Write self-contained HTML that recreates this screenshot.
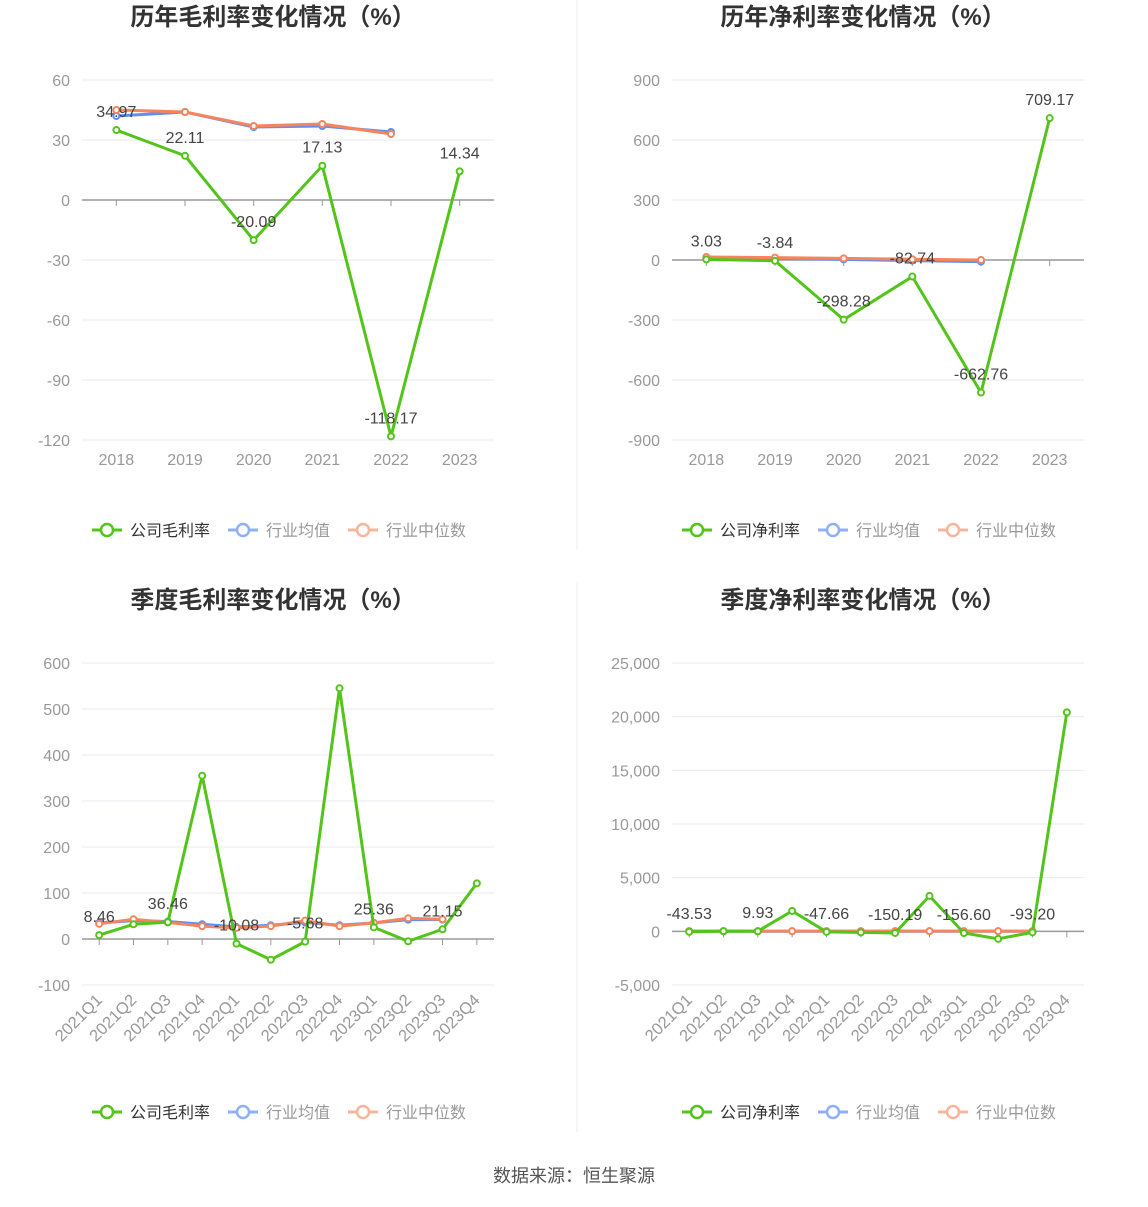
<!DOCTYPE html>
<html><head><meta charset="utf-8"><style>
body{margin:0;background:#fff;font-family:"Liberation Sans","Noto Sans CJK SC",sans-serif;}
svg text{font-family:"Liberation Sans","Noto Sans CJK SC",sans-serif;}
</style></head><body>
<svg id="s" width="1148" height="1202" xmlns="http://www.w3.org/2000/svg">
<line x1="577" y1="0" x2="577" y2="550" stroke="#eee"/>
<line x1="577" y1="582" x2="577" y2="1132" stroke="#eee"/>
<text x="574" y="1182" text-anchor="middle" font-size="18" fill="#555">数据来源：恒生聚源</text>
</svg>
<script>
const annualCats=["2018","2019","2020","2021","2022","2023"];
const grossCompany=[34.97,22.11,-20.09,17.13,-118.17,14.34];
const grossAvg=[42,44,36.5,37,34,null];
const grossMed=[45,44,37,38,33,null];
const grossTicks=[60,30,0,-30,-60,-90,-120];
const netCompany=[3.03,-3.84,-298.28,-82.74,-662.76,709.17];
const netAvg=[10,8,3,-3,-8,null];
const netMed=[15,12,8,4,0,null];
const netTicks=[900,600,300,0,-300,-600,-900];
const qCats=["2021Q1","2021Q2","2021Q3","2021Q4","2022Q1","2022Q2","2022Q3","2022Q4","2023Q1","2023Q2","2023Q3","2023Q4"];
const qGross=[8.46,32,36.46,355,-10.08,-45,-5.68,545,25.36,-5,21.15,121];
const qGrossAvg=[35,40,38,32,26,30,36,30,35,42,42,null];
const qGrossMed=[33,43,36,28,24,28,40,28,35,45,43,null];
const qGrossTicks=[600,500,400,300,200,100,0,-100];
const qNet=[-43.53,20,9.93,1900,-47.66,-100,-150.19,3300,-156.60,-700,-93.20,20400];
const qNetAvg=[10,10,10,10,10,10,10,10,10,10,10,null];
const qNetMed=[20,20,20,20,20,20,20,20,20,20,20,null];
const qNetTicks=[25000,20000,15000,10000,5000,0,-5000];

const NS="http://www.w3.org/2000/svg";
const svg=document.getElementById('s');
function el(tag,attrs,parent){const e=document.createElementNS(NS,tag);for(const k in attrs)e.setAttribute(k,attrs[k]);(parent||svg).appendChild(e);return e;}
function fmt(v){return v.toLocaleString('en-US');}

function chart(o){
  const g=el('g',{});
  
  
  const t=el('text',{x:o.x0+(o.x1-o.x0)/2-15,y:o.titleY,'text-anchor':'middle','font-size':24,'font-weight':'bold',fill:'#333'},g);
  t.textContent=o.title;
  
  
  const tmax=o.ticks[0],tmin=o.ticks[o.ticks.length-1];
  const y=v=>o.yTop+(tmax-v)/(tmax-tmin)*(o.yBot-o.yTop);
  const n=o.cats.length,step=(o.x1-o.x0)/n;
  const x=i=>o.x0+step*(i+0.5);
  o.ticks.forEach(tv=>{
    const gl=el('line',{x1:o.x0,x2:o.x1,y1:y(tv),y2:y(tv),stroke:tv===0?'#999':'#e6e9f2','stroke-width':tv===0?1.5:1},g);
    
    
    const tl=el('text',{x:o.x0-12,y:y(tv)+6,'text-anchor':'end','font-size':16,fill:'#999'},g);
    tl.textContent=fmt(tv);
    
    
  });
  o.cats.forEach((c,i)=>{
    el('line',{x1:x(i),x2:x(i),y1:y(0),y2:y(0)+6,stroke:'#999'},g);
    let cl;
    if(o.rotate){
      const ly=o.yBot+16;
      cl=el('text',{x:x(i)+4,y:ly,'text-anchor':'end','font-size':16.5,fill:'#999',transform:`rotate(-45 ${x(i)+4} ${ly})`},g);
    } else {
      cl=el('text',{x:x(i),y:o.yBot+25,'text-anchor':'middle','font-size':16,fill:'#999'},g);
    }
    cl.textContent=c;
    
    
  });
  const series=[[o.avg,'#5b8ff9','industry-average-line'],[o.med,'#f6855e','industry-median-line'],[o.comp,'#52c41a','company-line']];
  series.forEach(([d,col,nm])=>{
    const pts=[];d.forEach((v,i)=>{if(v!==null)pts.push([x(i),y(v)]);});
    const pl=el('polyline',{points:pts.map(p=>p.join(',')).join(' '),fill:'none',stroke:col,'stroke-width':3},g);
    
    
    pts.forEach(p=>{
      const c=el('circle',{cx:p[0],cy:p[1],r:3,fill:'#fff',stroke:col,'stroke-width':2},g);
      
      
    });
  });
  o.comp.forEach((v,i)=>{
    if(o.labelEvery&&i%2)return;
    const lb=el('text',{x:x(i),y:y(v)-13,'text-anchor':'middle','font-size':16,fill:'#444'},g);
    lb.textContent=v.toFixed(2);
    
    
  });
  const lx=o.x0+10,ly=o.legendY;
  const items=[[o.compName,'#52c41a'],['行业均值','#8fb0f8'],['行业中位数','#f9b49c']];
  const offs=[0,136,256];
  items.forEach(([nm,col],k)=>{
    const lg=el('g',{},g);
    
    
    const bx=lx+offs[k];
    el('line',{x1:bx,x2:bx+30,y1:ly,y2:ly,stroke:col,'stroke-width':3},lg);
    el('circle',{cx:bx+15,cy:ly,r:6,fill:'#fff',stroke:col,'stroke-width':2.5},lg);
    const tt=el('text',{x:bx+38,y:ly+6,'font-size':16,fill:k===0?'#333':'#999'},lg);
    tt.textContent=nm;
  });
}
chart({name:'annual-gross-margin-chart',title:'历年毛利率变化情况（%）',titleY:25,x0:82,x1:494,yTop:80,yBot:440,ticks:grossTicks,cats:annualCats,comp:grossCompany,avg:grossAvg,med:grossMed,legendY:530,compName:'公司毛利率'});
chart({name:'annual-net-margin-chart',title:'历年净利率变化情况（%）',titleY:25,x0:672,x1:1084,yTop:80,yBot:440,ticks:netTicks,cats:annualCats,comp:netCompany,avg:netAvg,med:netMed,legendY:530,compName:'公司净利率'});
chart({name:'quarterly-gross-margin-chart',title:'季度毛利率变化情况（%）',titleY:608,x0:82,x1:494,yTop:663,yBot:985,ticks:qGrossTicks,cats:qCats,comp:qGross,avg:qGrossAvg,med:qGrossMed,legendY:1112,compName:'公司毛利率',rotate:true,labelEvery:true});
chart({name:'quarterly-net-margin-chart',title:'季度净利率变化情况（%）',titleY:608,x0:672,x1:1084,yTop:663,yBot:985,ticks:qNetTicks,cats:qCats,comp:qNet,avg:qNetAvg,med:qNetMed,legendY:1112,compName:'公司净利率',rotate:true,labelEvery:true});
</script>
</body></html>
